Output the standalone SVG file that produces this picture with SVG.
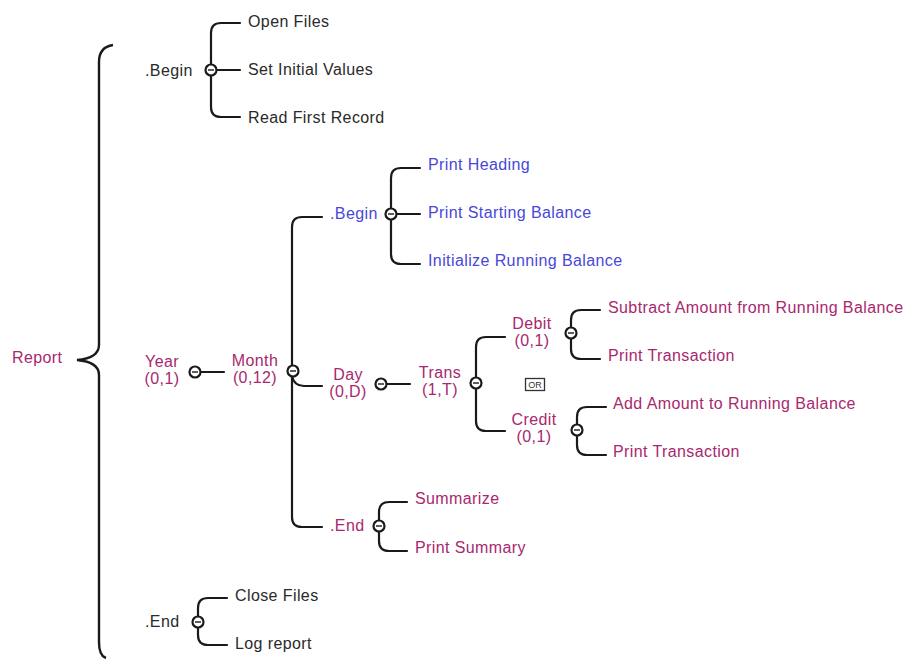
<svg xmlns="http://www.w3.org/2000/svg" width="904" height="659" viewBox="0 0 904 659">
<style>
text{font-family:"Liberation Sans",Arial,sans-serif;font-size:16px;letter-spacing:0.4px}
.k{fill:#2a2a2a}
.m{fill:#a8286e}
.b{fill:#4848d8}
.c{text-anchor:middle}
.ln{fill:none;stroke:#1a1a1a;stroke-width:2.2;stroke-linecap:round}
.br{fill:none;stroke:#1a1a1a;stroke-width:2.4}
</style>
<defs>
<g id="seq"><circle cx="0" cy="0" r="5.5" fill="#fff" stroke="#1a1a1a" stroke-width="2.2"/><line x1="-3" y1="0" x2="3" y2="0" stroke="#1a1a1a" stroke-width="1.4"/></g>
</defs>
<rect width="904" height="659" fill="#fff"/>
<g id="connectors">
<path class="br" d="M113,45 Q99,47 99,62 V345 Q99,358 77,360 Q99,362 99,375 V642 Q99,656 106,658"/>
<path class="ln" d="M240,23 H221 Q211,23 211,33 V107 Q211,117 221,117 H240 M211,70 H240"/>
<path class="ln" d="M322,217 H302 Q292,217 292,227 V517 Q292,527 302,527 H322"/>
<path class="ln" d="M292,376 Q294,386 304,386 H322"/>
<path class="ln" d="M200,372 H224"/>
<path class="ln" d="M420,168 H401 Q391,168 391,178 V254 Q391,264 401,264 H420 M391,214 H420"/>
<path class="ln" d="M386,384 H410"/>
<path class="ln" d="M505,337 H486 Q476,337 476,347 V421 Q476,431 486,431 H505"/>
<path class="ln" d="M600,310 H581 Q571,310 571,320 V349 Q571,359 581,359 H600"/>
<path class="ln" d="M606,407 H587 Q577,407 577,417 V445 Q577,455 587,455 H606"/>
<path class="ln" d="M407,502 H389 Q379,502 379,512 V541 Q379,551 389,551 H407"/>
<path class="ln" d="M227,598 H208 Q198,598 198,608 V635 Q198,645 208,645 H227"/>
</g>
<g id="report"><text class="m" x="12" y="363">Report</text></g>
<g id="begin"><text class="k" x="145" y="76">.Begin</text><use href="#seq" x="211" y="70"/></g>
<g id="open-files"><text class="k" x="248" y="27">Open Files</text></g>
<g id="set-initial"><text class="k" x="248" y="75">Set Initial Values</text></g>
<g id="read-first"><text class="k" x="248" y="123">Read First Record</text></g>
<g id="year"><text class="m c" x="162" y="367">Year</text><text class="m c" x="162" y="384">(0,1)</text><use href="#seq" x="195" y="372"/></g>
<g id="month"><text class="m c" x="255" y="366">Month</text><text class="m c" x="255" y="383">(0,12)</text><use href="#seq" x="293" y="371"/></g>
<g id="month-begin"><text class="b" x="330" y="219">.Begin</text><use href="#seq" x="391" y="214"/></g>
<g id="print-heading"><text class="b" x="428" y="170">Print Heading</text></g>
<g id="print-starting"><text class="b" x="428" y="218">Print Starting Balance</text></g>
<g id="init-running"><text class="b" x="428" y="266">Initialize Running Balance</text></g>
<g id="day"><text class="m c" x="348" y="380">Day</text><text class="m c" x="348" y="397">(0,D)</text><use href="#seq" x="381" y="384"/></g>
<g id="trans"><text class="m c" x="440" y="378">Trans</text><text class="m c" x="440" y="395">(1,T)</text><use href="#seq" x="476" y="383"/></g>
<g id="debit"><text class="m c" x="532" y="329">Debit</text><text class="m c" x="532" y="346">(0,1)</text><use href="#seq" x="571" y="333"/></g>
<g id="or"><rect x="525.5" y="378.5" width="19" height="12" fill="#fff" stroke="#333" stroke-width="1.3"/><text x="535" y="388" text-anchor="middle" style="font-size:9px;letter-spacing:0" fill="#333">OR</text></g>
<g id="credit"><text class="m c" x="534" y="425">Credit</text><text class="m c" x="534" y="442">(0,1)</text><use href="#seq" x="577" y="430"/></g>
<g id="subtract"><text class="m" x="608" y="313">Subtract Amount from Running Balance</text></g>
<g id="print-trans-1"><text class="m" x="608" y="361">Print Transaction</text></g>
<g id="add-amount"><text class="m" x="613" y="409">Add Amount to Running Balance</text></g>
<g id="print-trans-2"><text class="m" x="613" y="457">Print Transaction</text></g>
<g id="month-end"><text class="m" x="330" y="531">.End</text><use href="#seq" x="379" y="526"/></g>
<g id="summarize"><text class="m" x="415" y="504">Summarize</text></g>
<g id="print-summary"><text class="m" x="415" y="553">Print Summary</text></g>
<g id="end"><text class="k" x="145" y="627">.End</text><use href="#seq" x="198" y="622"/></g>
<g id="close-files"><text class="k" x="235" y="601">Close Files</text></g>
<g id="log-report"><text class="k" x="235" y="649">Log report</text></g>
</svg>
